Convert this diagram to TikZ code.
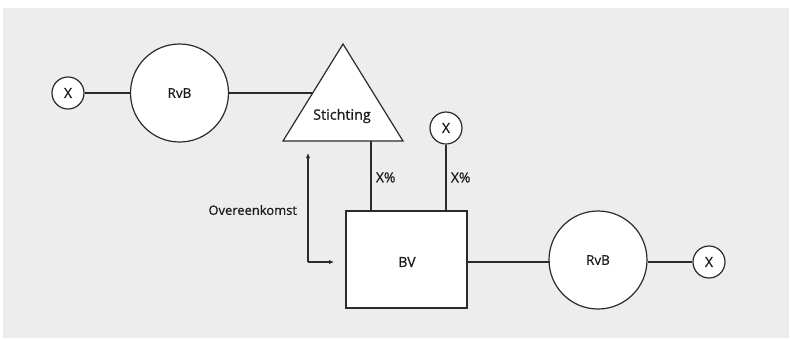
\documentclass[tikz,border=0pt]{standalone}
\usepackage{fontspec}
\setmainfont{Open Sans}[FakeBold=0.7]
\usetikzlibrary{arrows.meta,shapes.geometric}
\definecolor{bg}{HTML}{EDEDED}
\definecolor{ln}{HTML}{2B2B2B}
\definecolor{tx}{HTML}{1C1C1C}
\tikzset{
  every node/.style={font=\fontsize{14}{16}\selectfont, text=tx},
  smalltext/.style={font=\fontsize{13.5}{16}\selectfont},
  shp/.style={draw=ln, fill=white, line width=1.2bp, inner sep=0pt},
  big/.style={shp, circle, minimum size=98bp, smalltext},
  small/.style={shp, circle, minimum size=32bp},
  conn/.style={draw=ln, line width=1.2bp},
  tip/.style={-{Latex[length=5bp,width=4.5bp]}},
}
\begin{document}
\begin{tikzpicture}[x=1bp,y=-1bp]
\useasboundingbox (0,0) rectangle (790,339);
\fill[bg] (3,8) rectangle (789,338);
% left branch
\node[small] (x1) at (68,93) {X};
\node[big] (r1) at (179.5,93) {RvB};
% triangle
\coordinate (ta) at (343,44);
\coordinate (tl) at (283,141);
\coordinate (tr) at (403,141);
\filldraw[conn, fill=white, line join=miter] (ta) -- (tl) -- (tr) -- cycle;
\node[font=\fontsize{14.4}{16}\selectfont] (st) at (342,116) {Stichting};
\coordinate (tj) at (313,93);
% BV box
\node[shp, rectangle, minimum width=121bp, minimum height=97bp] (bv) at (406.5,259.5) {};
\node (bvl) at (407,262) {BV};
% top small X
\node[small] (x2) at (446,128) {X};
% right branch
\node[big] (r2) at (598,260) {RvB};
\node[small] (x3) at (709,262) {X};
% connectors
\draw[conn] (x1) -- (r1);
\draw[conn] (r1.east) -- (tj);
\coordinate (sb) at (371,141);
\coordinate (st2) at (371,211);
\draw[conn] (sb) -- (st2) node[pos=0.52, right=1bp] {X\%};
\draw[conn] (x2.south) -- (x2.south |- bv.north) node[pos=0.5, right=1bp] {X\%};
\coordinate (bvr) at (467,262);
\coordinate (r2l) at (549.5,262);
\draw[conn] (bvr) -- (r2l);
\draw[conn] (r2.east |- x3) -- (x3);
% Overeenkomst arrow
\coordinate (oa) at (308,153);
\coordinate (oc) at (308,262);
\coordinate (ob) at (334,262);
\draw[conn, tip] (oc) -- (oa);
\draw[conn, tip] (oc) -- (ob);
\node[anchor=east, font=\fontsize{13}{16}\selectfont] (ov) at (300.5,210) {Overeenkomst};
\end{tikzpicture}
\end{document}
